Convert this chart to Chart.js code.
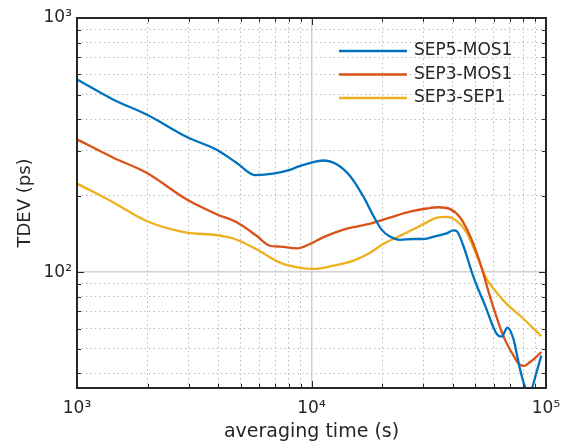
<!DOCTYPE html>
<html>
<head>
<meta charset="utf-8">
<script src="https://cdn.jsdelivr.net/npm/chart.js@4.4.1/dist/chart.umd.min.js"></script>
<style>
  html, body { margin: 0; padding: 0; background: #fff; }
  #wrap { width: 573px; height: 445px; }
</style>
</head>
<body>
<div id="wrap"><canvas id="tdevChart" width="573" height="445"></canvas></div>
<script>
// series (tau in s, TDEV in ps)
const seriesLabels = ['SEP5-MOS1', 'SEP3-MOS1', 'SEP3-SEP1'];
const seriesColors = ['#0072BD', '#D95319', '#EDB120'];

const sep5Mos1Tau = [1000, 1430, 2000, 2940, 3940, 4800, 5740, 6870, 8000, 8940, 10000, 11200, 12800, 14600, 16600, 18400, 19900, 21600, 23800, 27200, 30000, 34200, 37700, 40300, 41600, 44400, 49000, 55000, 61700, 64700, 68500, 72600, 77400, 82000, 86000, 91200, 95500];
const sep5Mos1Dev = [573, 477, 415, 340, 303, 269, 241, 244, 252, 262, 270, 275, 266, 239, 199, 166, 147, 138, 134, 135, 135, 139, 142, 146, 145, 127, 96, 73.8, 57, 55.7, 60.5, 54.6, 41.7, 35, 34.5, 40.5, 47];

const sep3Mos1Tau = [1000, 1430, 1980, 2940, 3940, 4800, 5830, 6650, 7330, 8650, 9860, 11200, 13700, 17200, 21600, 26300, 31000, 34700, 39000, 43000, 47400, 52300, 58700, 65800, 72600, 77400, 81000, 85500, 90000, 95500];
const sep3Mos1Dev = [333, 282, 246, 193, 169, 157, 139, 127, 126, 124, 129, 137, 147, 154, 164, 173, 178, 180, 177, 164, 139, 109, 76, 56, 47, 43.2, 42.8, 44.3, 46, 48.5];

const sep3Sep1Tau = [1000, 1430, 1980, 2940, 3940, 4710, 5830, 7330, 8940, 10200, 12400, 15100, 17700, 20200, 23100, 27200, 31000, 34200, 37700, 41600, 45900, 50700, 55800, 61700, 67900, 77400, 95500];
const sep3Sep1Dev = [223, 188, 159, 143, 140, 135, 123, 109, 104, 103, 106, 111, 119, 129, 137, 147.5, 157, 164, 165, 159, 143, 116, 94, 83, 75, 67.5, 56];

const xRange = [1e3, 1e5];
const yRange = [35, 1e3];

const FONT = "'DejaVu Sans', sans-serif";
const INK = '#262626';
const SUP = ['⁰', '¹', '²', '³', '⁴', '⁵', '⁶', '⁷', '⁸', '⁹'];

function isDecade(v) {
  if (!v) return false;
  const e = Math.log10(v);
  return Math.abs(e - Math.round(e)) < 1e-9;
}

function decadeLabel(v) {
  if (!isDecade(v)) return '';
  return '10' + SUP[Math.round(Math.log10(v))];
}

// 1..9 x 10^n ticks inside the axis range
function logTicks(scale) {
  const lo = scale.min, hi = scale.max;
  const ticks = [];
  for (let e = Math.floor(Math.log10(lo)); e <= Math.ceil(Math.log10(hi)); e++) {
    for (let m = 1; m <= 9; m++) {
      const v = m * Math.pow(10, e);
      if (v >= lo * 0.9999 && v <= hi * 1.0001) ticks.push({ value: v });
    }
  }
  scale.ticks = ticks;
}

function toPoints(xs, ys) {
  return xs.map((x, i) => ({ x: x, y: ys[i] }));
}

const gridColor = ctx => (ctx.tick && isDecade(ctx.tick.value)) ? '#d2d2d2' : '#bcbcbc';
const gridWidth = ctx => (ctx.tick && isDecade(ctx.tick.value)) ? 1.5 : 1;
const gridDash = ctx => (ctx.tick && !isDecade(ctx.tick.value)) ? [1.5, 3] : [];

const axesBox = {
  id: 'axesBox',
  afterDatasetsDraw(chart) {
    const { ctx, chartArea: a, scales } = chart;
    ctx.save();
    ctx.strokeStyle = INK;
    ctx.lineWidth = 1;
    ctx.beginPath();
    scales.x.ticks.forEach(t => {
      const px = Math.round(scales.x.getPixelForValue(t.value)) + 0.5;
      const len = isDecade(t.value) ? 7 : 4;
      ctx.moveTo(px, a.bottom); ctx.lineTo(px, a.bottom - len);
      ctx.moveTo(px, a.top); ctx.lineTo(px, a.top + len);
    });
    scales.y.ticks.forEach(t => {
      const py = Math.round(scales.y.getPixelForValue(t.value)) + 0.5;
      const len = isDecade(t.value) ? 7 : 4;
      ctx.moveTo(a.left, py); ctx.lineTo(a.left + len, py);
      ctx.moveTo(a.right, py); ctx.lineTo(a.right - len, py);
    });
    ctx.stroke();
    ctx.lineWidth = 2;
    ctx.strokeRect(a.left, a.top, a.right - a.left, a.bottom - a.top);
    ctx.restore();
  }
};

const insideLegend = {
  id: 'insideLegend',
  afterDraw(chart) {
    const { ctx, chartArea: a } = chart;
    ctx.save();
    ctx.font = '17px ' + FONT;
    ctx.textBaseline = 'middle';
    ctx.textAlign = 'left';
    chart.data.datasets.forEach((ds, i) => {
      const y = a.top + 33 + i * 23.5;
      ctx.strokeStyle = ds.borderColor;
      ctx.lineWidth = 2.3;
      ctx.beginPath();
      ctx.moveTo(a.right - 207, y);
      ctx.lineTo(a.right - 139, y);
      ctx.stroke();
      ctx.fillStyle = INK;
      ctx.fillText(ds.label, a.right - 132, y);
    });
    ctx.restore();
  }
};

const ctxTdev = document.getElementById('tdevChart').getContext('2d');
const tdevChart = new Chart(ctxTdev, {
  type: 'line',
  data: {
    datasets: [
      { label: seriesLabels[0], data: toPoints(sep5Mos1Tau, sep5Mos1Dev), borderColor: seriesColors[0] },
      { label: seriesLabels[1], data: toPoints(sep3Mos1Tau, sep3Mos1Dev), borderColor: seriesColors[1] },
      { label: seriesLabels[2], data: toPoints(sep3Sep1Tau, sep3Sep1Dev), borderColor: seriesColors[2] }
    ].map(ds => Object.assign(ds, {
      borderWidth: 2.3,
      pointRadius: 0,
      fill: false,
      cubicInterpolationMode: 'monotone'
    }))
  },
  options: {
    responsive: false,
    animation: false,
    layout: { padding: { top: 18, right: 27, left: 0, bottom: 0 } },
    plugins: { legend: { display: false }, tooltip: { enabled: false } },
    scales: {
      x: {
        type: 'logarithmic',
        min: xRange[0],
        max: xRange[1],
        afterBuildTicks: logTicks,
        afterFit: s => { s.height = 57; },
        ticks: { autoSkip: false, maxRotation: 0, padding: 10, color: INK, font: { family: FONT, size: 17 }, callback: v => decadeLabel(v) },
        grid: { drawTicks: false, color: gridColor, lineWidth: gridWidth },
        border: { display: false, dash: gridDash },
        title: { display: true, text: 'averaging time (s)', color: INK, font: { family: FONT, size: 19 }, padding: { top: 0, bottom: 2 } }
      },
      y: {
        type: 'logarithmic',
        min: yRange[0],
        max: yRange[1],
        afterBuildTicks: logTicks,
        afterFit: s => { s.width = 77; },
        ticks: { autoSkip: false, padding: 5, color: INK, font: { family: FONT, size: 17 }, callback: v => decadeLabel(v) },
        grid: { drawTicks: false, color: gridColor, lineWidth: gridWidth },
        border: { display: false, dash: gridDash },
        title: { display: true, text: 'TDEV (ps)', color: INK, font: { family: FONT, size: 18 }, padding: { top: 15, bottom: 0 } }
      }
    }
  },
  plugins: [axesBox, insideLegend]
});
</script>
</body>
</html>
